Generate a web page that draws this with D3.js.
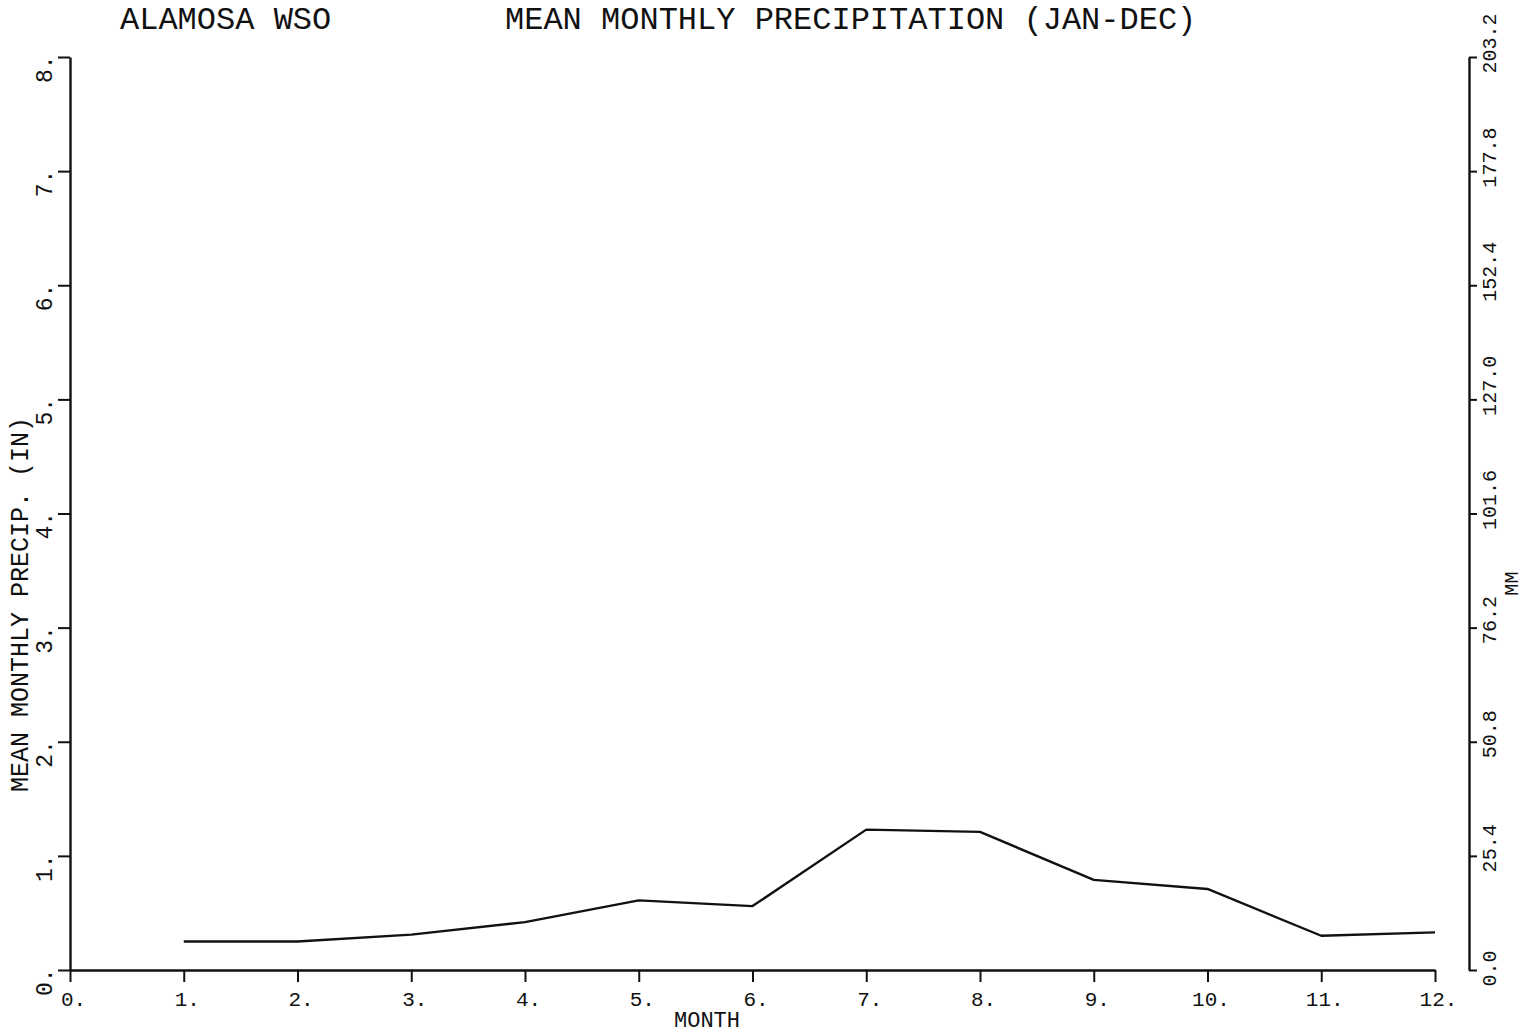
<!DOCTYPE html>
<html>
<head>
<meta charset="utf-8">
<script src="https://cdn.jsdelivr.net/npm/d3@7"></script>
<style>
  html, body { margin: 0; padding: 0; background: #fff; }
  svg { display: block; }
  text { font-family: "Liberation Mono", "DejaVu Sans Mono", monospace; fill: #111; }
</style>
</head>
<body>
<svg id="chart" width="1527" height="1035"></svg>
<script>
// ---- data ----
const months = [1, 2, 3, 4, 5, 6, 7, 8, 9, 10, 11, 12];
const precipIn = [0.25, 0.25, 0.31, 0.42, 0.61, 0.56, 1.23, 1.21, 0.79, 0.71, 0.30, 0.33];
const xTicks = [0, 1, 2, 3, 4, 5, 6, 7, 8, 9, 10, 11, 12];
const yTicksIn = [0, 1, 2, 3, 4, 5, 6, 7, 8];
const yTicksMm = [0.0, 25.4, 50.8, 76.2, 101.6, 127.0, 152.4, 177.8, 203.2];
const titleLeft = "ALAMOSA WSO";
const titleMain = "MEAN MONTHLY PRECIPITATION (JAN-DEC)";
const xLabel = "MONTH";
const yLabelLeft = "MEAN MONTHLY PRECIP. (IN)";
const yLabelRight = "MM";

// ---- layout ----
const svg = d3.select("#chart");
const plotL = 70, plotR = 1435, plotT = 57, plotB = 970, rightAxisX = 1469;
const ink = "#111";

const x = d3.scaleLinear().domain([0, 12]).range([plotL, plotR]);
const y = d3.scaleLinear().domain([0, 8]).range([plotB, plotT]);
const yMm = d3.scaleLinear().domain([0, 203.2]).range([plotB, plotT]);

// titles
svg.append("text").attr("x", 120).attr("y", 29)
  .attr("font-size", 32).text(titleLeft);
svg.append("text").attr("x", 505).attr("y", 29)
  .attr("font-size", 32).text(titleMain);

// bottom axis
const xAxis = d3.axisBottom(x).tickValues(xTicks).tickSize(12).tickSizeOuter(0)
  .tickFormat(d => d + ".");
const gx = svg.append("g").attr("transform", `translate(0,${plotB})`).call(xAxis);
gx.select(".domain").attr("stroke", ink).attr("stroke-width", 2.4);
gx.selectAll(".tick line").attr("stroke", ink).attr("stroke-width", 2);
gx.selectAll(".tick text")
  .attr("font-size", 21).attr("font-family", "Liberation Mono, monospace")
  .attr("fill", ink).attr("x", 3).attr("y", 36).attr("dy", null);

svg.append("text").attr("x", 707).attr("y", 1027).attr("text-anchor", "middle")
  .attr("font-size", 22).text(xLabel);

// left axis
const yAxis = d3.axisLeft(y).tickValues(yTicksIn).tickSize(12).tickSizeOuter(0)
  .tickFormat(d => d + ".");
const gy = svg.append("g").attr("transform", `translate(${plotL},0)`).call(yAxis);
gy.select(".domain").attr("stroke", ink).attr("stroke-width", 2.4);
gy.selectAll(".tick line").attr("stroke", ink).attr("stroke-width", 2);
gy.selectAll(".tick text")
  .attr("font-size", 23).attr("font-family", "Liberation Mono, monospace")
  .attr("fill", ink)
  .attr("text-anchor", "end").attr("transform", "rotate(-90)")
  .attr("x", 2).attr("y", -18).attr("dy", null);

svg.append("text")
  .attr("transform", "translate(28,792) rotate(-90)")
  .attr("font-size", 25).text(yLabelLeft);

// right axis (mm)
const yAxisR = d3.axisRight(yMm).tickValues(yTicksMm).tickSize(8).tickSizeOuter(0)
  .tickFormat(d => d.toFixed(1));
const gr = svg.append("g").attr("transform", `translate(${rightAxisX},0)`).call(yAxisR);
gr.select(".domain").attr("stroke", ink).attr("stroke-width", 2.4);
gr.selectAll(".tick line").attr("stroke", ink).attr("stroke-width", 2);
gr.selectAll(".tick text")
  .attr("font-size", 20).attr("font-family", "Liberation Mono, monospace")
  .attr("fill", ink)
  .attr("text-anchor", "start").attr("transform", "rotate(-90)")
  .attr("x", -16).attr("y", 27).attr("dy", null);

svg.append("text")
  .attr("transform", `translate(1518,${yMm(76.2) - 32}) rotate(-90)`)
  .attr("font-size", 20).text(yLabelRight);

// data line
const line = d3.line().x((d, i) => x(months[i])).y(d => y(d));
svg.append("path").datum(precipIn)
  .attr("d", line).attr("fill", "none")
  .attr("stroke", ink).attr("stroke-width", 2.4)
  .attr("stroke-linejoin", "round");
</script>
</body>
</html>
